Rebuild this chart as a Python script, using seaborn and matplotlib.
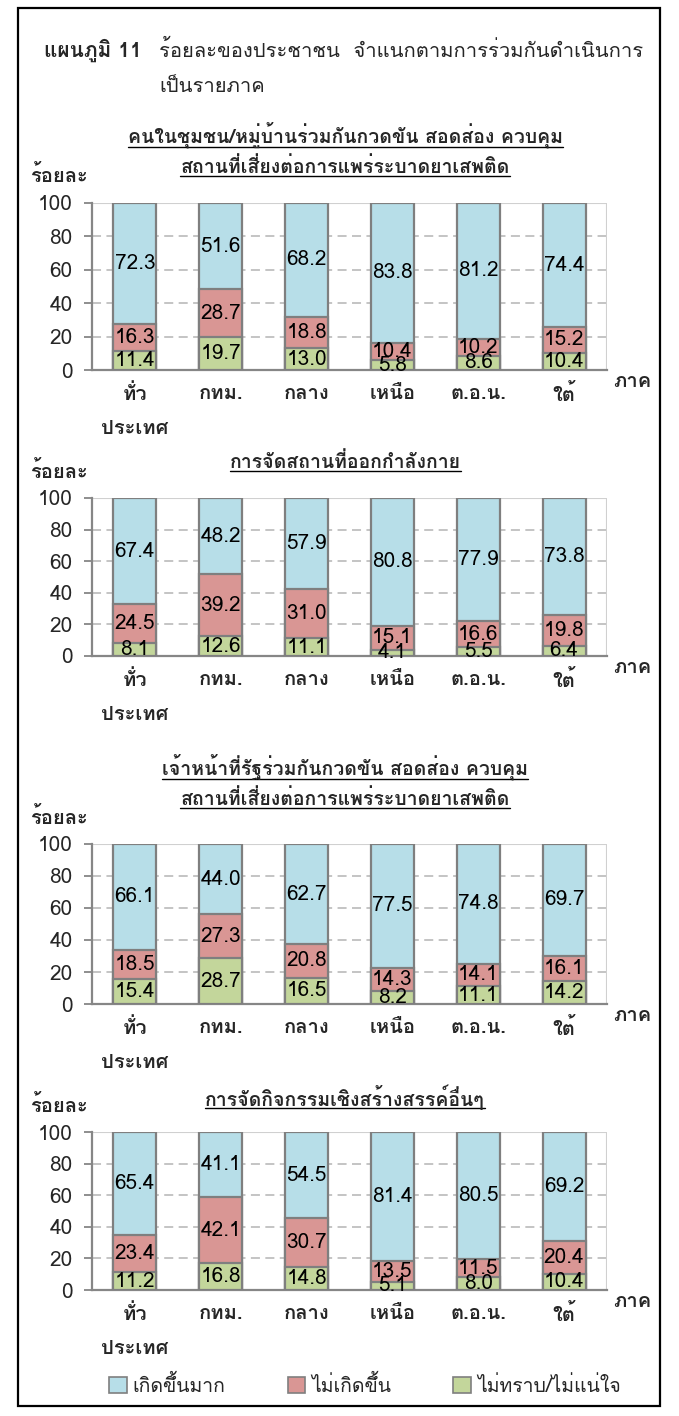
import numpy as np
import pandas as pd
import matplotlib
matplotlib.use("Agg")
import matplotlib.pyplot as plt
import seaborn as sns
from matplotlib import font_manager
from matplotlib.ft2font import FT2Font
from matplotlib.patches import Patch, Rectangle
from matplotlib.lines import Line2D

regions = ['ทั่ว\nประเทศ', 'กทม.', 'กลาง', 'เหนือ', 'ต.อ.น.', 'ใต้']
series_names = ['เกิดขึ้นมาก', 'ไม่เกิดขึ้น', 'ไม่ทราบ/ไม่แน่ใจ']

titles = [
    'คนในชุมชน/หมู่บ้านร่วมกันกวดขัน สอดส่อง ควบคุม\nสถานที่เสี่ยงต่อการแพร่ระบาดยาเสพติด',
    'การจัดสถานที่ออกกำลังกาย',
    'เจ้าหน้าที่รัฐร่วมกันกวดขัน สอดส่อง ควบคุม\nสถานที่เสี่ยงต่อการแพร่ระบาดยาเสพติด',
    'การจัดกิจกรรมเชิงสร้างสรรค์อื่นๆ',
]

much_1 = [72.3, 51.6, 68.2, 83.8, 81.2, 74.4]
no_1 = [16.3, 28.7, 18.8, 10.4, 10.2, 15.2]
unsure_1 = [11.4, 19.7, 13.0, 5.8, 8.6, 10.4]

much_2 = [67.4, 48.2, 57.9, 80.8, 77.9, 73.8]
no_2 = [24.5, 39.2, 31.0, 15.1, 16.6, 19.8]
unsure_2 = [8.1, 12.6, 11.1, 4.1, 5.5, 6.4]

much_3 = [66.1, 44.0, 62.7, 77.5, 74.8, 69.7]
no_3 = [18.5, 27.3, 20.8, 14.3, 14.1, 16.1]
unsure_3 = [15.4, 28.7, 16.5, 8.2, 11.1, 14.2]

much_4 = [65.4, 41.1, 54.5, 81.4, 80.5, 69.2]
no_4 = [23.4, 42.1, 30.7, 13.5, 11.5, 20.4]
unsure_4 = [11.2, 16.8, 14.8, 5.1, 8.0, 10.4]

panels = [(much_1, no_1, unsure_1), (much_2, no_2, unsure_2),
          (much_3, no_3, unsure_3), (much_4, no_4, unsure_4)]

# find any installed font that has Thai glyphs
thai_fonts = []
for f in font_manager.fontManager.ttflist:
    try:
        if 0x0E01 in FT2Font(f.fname).get_charmap() and f.name not in thai_fonts:
            thai_fonts.append(f.name)
    except Exception:
        pass

sns.set_theme(style="white")
num_family = ['Liberation Sans Narrow'] + thai_fonts + ['DejaVu Sans']
txt_family = thai_fonts + ['Liberation Sans Narrow', 'DejaVu Sans']
plt.rcParams['font.family'] = txt_family

colors = ['#B7DEE8', '#D99694', '#C3D69B']
edge = '#7F7F7F'

W, H = 679, 1416
fig = plt.figure(figsize=(W / 100, H / 100), dpi=100)

# pixel rows: (top of 100, zero line, title centre y, ร้อยละ y)
rows = [(203, 370, 135, 175), (498, 656, 462, 472),
        (844, 1004, 767, 817), (1132, 1290, 1097, 1105)]
x_left, x_right = 92, 607

underline_texts = []
for (much, no, unsure), (top, zero, ty, ry), title in zip(panels, rows, titles):
    ax = fig.add_axes([x_left / W, 1 - zero / H, (x_right - x_left) / W, (zero - top) / H])
    df = pd.DataFrame({'region': regions, 'much': much, 'no': no, 'unsure': unsure})
    df['top'] = df['much'] + df['no'] + df['unsure']
    df['mid'] = df['no'] + df['unsure']

    for col, c in zip(['top', 'mid', 'unsure'], colors):
        sns.barplot(data=df, x='region', y=col, color=c, saturation=1, width=0.5,
                    edgecolor=edge, linewidth=1.6, ax=ax, zorder=3)

    for i, row in df.iterrows():
        for val, yc in [(row['unsure'], row['unsure'] / 2),
                        (row['no'], row['unsure'] + row['no'] / 2),
                        (row['much'], row['mid'] + row['much'] / 2)]:
            ax.text(i, yc, f'{val:.1f}', ha='center', va='center', fontsize=15,
                    family=num_family, color='black', zorder=5)

    ax.set_ylim(0, 100)
    ax.set_xlim(-0.5, 5.5)
    ax.set_yticks([0, 20, 40, 60, 80, 100])
    ax.set_xlabel('')
    ax.set_ylabel('')
    for yv in [20, 40, 60, 80]:
        ax.axhline(yv, color='#BFBFBF', lw=1.3, ls=(0, (5, 3)), zorder=1)
    ax.axhline(100, color='#D0D0D0', lw=1.5, zorder=1)
    for s in ['top', 'right']:
        ax.spines[s].set_visible(False)
    ax.axvline(5.5, color='#D0D0D0', lw=1.5, zorder=1)
    ax.spines['left'].set_color('#868686')
    ax.spines['bottom'].set_color('#868686')
    ax.spines['left'].set_linewidth(1.6)
    ax.spines['bottom'].set_linewidth(1.6)
    ax.tick_params(axis='y', length=6, width=1.3, color='#868686', direction='out', pad=8, left=True)
    ax.tick_params(axis='x', length=0, pad=10)
    for lab in ax.get_yticklabels():
        lab.set_fontsize(15)
        lab.set_family(num_family)
    ax.set_xticks(range(6))
    ax.set_xticklabels(regions, fontsize=14.5, fontweight='bold', linespacing=2.0, va='top')
    ax.text(1.012, -1, 'ภาค', transform=ax.get_yaxis_transform(), ha='left', va='top',
            fontsize=14.5, fontweight='bold')

    fig.text(30 / W, 1 - ry / H, 'ร้อยละ', ha='left', va='center', fontsize=14.5, fontweight='bold')
    lines = title.split('\n')
    for k, line in enumerate(lines):
        t = fig.text(345 / W, 1 - (ty + 32 * k) / H, line, ha='center', va='center',
                     fontsize=14, fontweight='bold')
        underline_texts.append(t)

fig.text(44 / W, 1 - 50 / H, 'แผนภูมิ 11', ha='left', va='center', fontsize=15, fontweight='bold')
fig.text(159 / W, 1 - 50 / H, 'ร้อยละของประชาชน  จำแนกตามการร่วมกันดำเนินการ', ha='left',
         va='center', fontsize=14.5)
fig.text(159 / W, 1 - 86 / H, 'เป็นรายภาค', ha='left', va='center', fontsize=14.5)

handles = [Patch(facecolor=c, edgecolor=edge, linewidth=1.2) for c in colors]
fig.legend(handles, series_names, loc='center', bbox_to_anchor=(365 / W, 1 - 1385 / H),
           ncol=3, frameon=False, fontsize=14, handlelength=0.9, handleheight=0.9,
           handletextpad=0.3, columnspacing=3.2)

fig.add_artist(Rectangle((18 / W, 1 - 1406 / H), 642 / W, 1398 / H, transform=fig.transFigure,
                         fill=False, edgecolor='black', linewidth=1.6))

# underline the panel titles
fig.canvas.draw()
renderer = fig.canvas.get_renderer()
for t in underline_texts:
    bb = t.get_window_extent(renderer).transformed(fig.transFigure.inverted())
    fig.add_artist(Line2D([bb.x0, bb.x1], [bb.y0 + 0.001, bb.y0 + 0.001], transform=fig.transFigure,
                          color='black', lw=1.0))

fig.savefig('out.png', dpi=100)
